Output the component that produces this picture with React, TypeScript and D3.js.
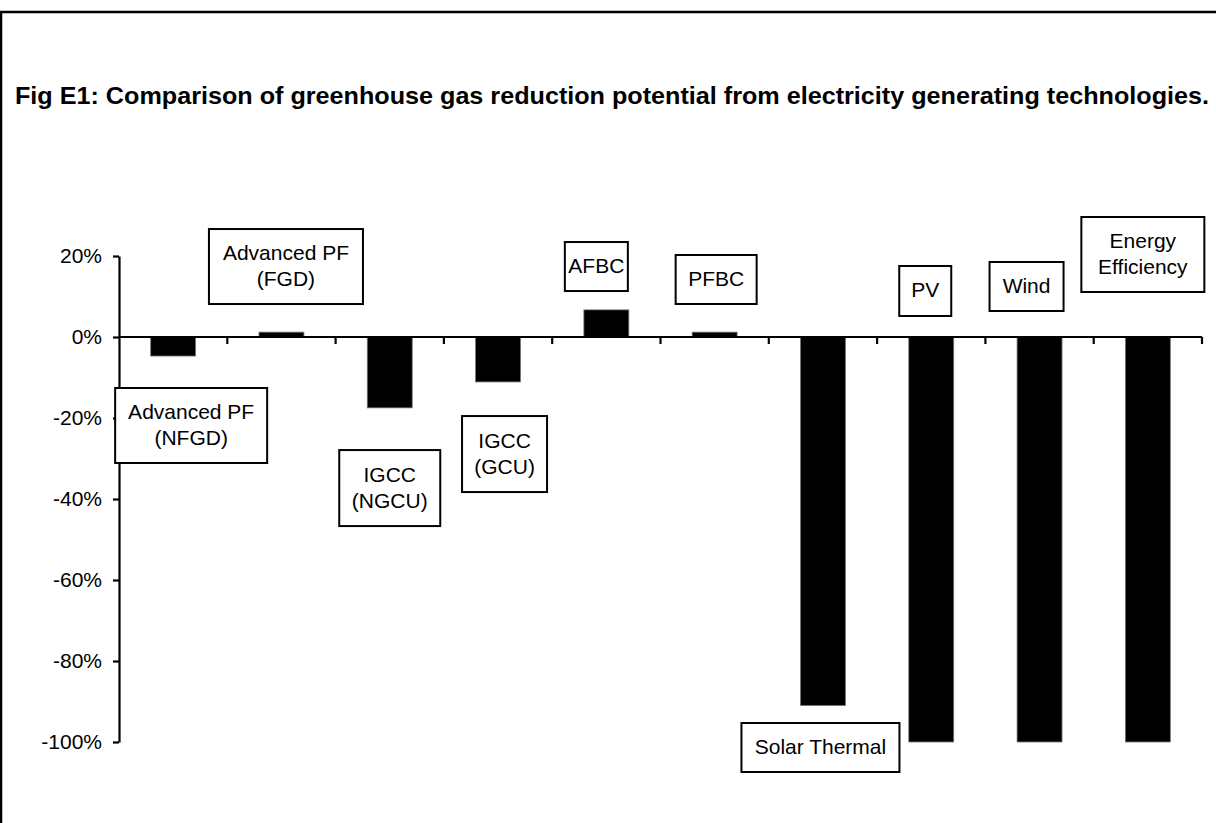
import React, { useEffect, useRef } from "react";
import * as d3 from "d3";

const categories = [
  "Advanced PF (NFGD)",
  "Advanced PF (FGD)",
  "IGCC (NGCU)",
  "IGCC (GCU)",
  "AFBC",
  "PFBC",
  "Solar Thermal",
  "PV",
  "Wind",
  "Energy Efficiency",
];
const reduction = [-0.047, 0.012, -0.175, -0.111, 0.067, 0.012, -0.91, -1.0, -1.0, -1.0];
const yTicks = [0.2, 0, -0.2, -0.4, -0.6, -0.8, -1.0];

// text box per category: lines, offset from band centre (px), centre in value units, size
const labelLines = [
  ["Advanced PF", "(NFGD)"],
  ["Advanced PF", "(FGD)"],
  ["IGCC", "(NGCU)"],
  ["IGCC", "(GCU)"],
  ["AFBC"],
  ["PFBC"],
  ["Solar Thermal"],
  ["PV"],
  ["Wind"],
  ["Energy", "Efficiency"],
];
const labelBoxes = [
  { dx: 18, v: -0.2185, w: 152, h: 75 },
  { dx: 4.5, v: 0.174, w: 154, h: 75 },
  { dx: 0, v: -0.373, w: 101, h: 76 },
  { dx: 6.5, v: -0.289, w: 85, h: 76 },
  { dx: -10, v: 0.174, w: 63, h: 49 },
  { dx: 1.5, v: 0.142, w: 81, h: 49 },
  { dx: -2.5, v: -1.0136, w: 158, h: 49 },
  { dx: -6, v: 0.1136, w: 52, h: 50 },
  { dx: -13, v: 0.1247, w: 74, h: 49 },
  { dx: -5, v: 0.2037, w: 123, h: 75 },
];

const title =
  "Fig E1: Comparison of greenhouse gas reduction potential from electricity generating technologies.";

export default function App() {
  const ref = useRef<SVGSVGElement>(null);

  useEffect(() => {
    const width = 1216;
    const height = 823;
    const font = "'Liberation Sans', Arial, sans-serif";
    const svg = d3.select(ref.current).attr("width", width).attr("height", height);
    svg.selectAll("*").remove();

    const x = d3.scaleBand()
      .domain(categories)
      .range([119, 1202])
      .paddingInner(0.585)
      .paddingOuter(0.2925);

    const y = d3.scaleLinear().domain([-1, 0.2]).range([742, 256]);

    // frame
    svg.append("path")
      .attr("d", `M1,${height} L1,12 L${width},12`)
      .attr("fill", "none")
      .attr("stroke", "#000")
      .attr("stroke-width", 2.5);

    // title
    svg.append("text")
      .attr("x", 15)
      .attr("y", 104)
      .attr("font-family", font)
      .attr("font-weight", "bold")
      .attr("font-size", 24)
      .attr("textLength", 1194)
      .attr("lengthAdjust", "spacingAndGlyphs")
      .attr("fill", "#000")
      .text(title);

    // bars
    svg.selectAll(".bar")
      .data(reduction)
      .enter()
      .append("rect")
      .attr("x", (d, i) => x(categories[i]) as number)
      .attr("y", d => y(Math.max(0, d)))
      .attr("width", x.bandwidth())
      .attr("height", d => Math.abs(y(d) - y(0)))
      .attr("fill", "#000")
      .attr("stroke", "#777")
      .attr("stroke-width", 0.8);

    // Y axis
    const pct = (d: d3.NumberValue) => `${Math.round(+d * 100)}%`;
    const yAxis = svg.append("g")
      .attr("transform", "translate(119,0)")
      .call(d3.axisLeft(y).tickValues(yTicks).tickSize(6).tickSizeOuter(0).tickFormat(pct));
    yAxis.select(".domain").attr("stroke-width", 2.2);
    yAxis.selectAll(".tick line").attr("stroke-width", 2.2);
    yAxis.selectAll("text")
      .attr("font-family", font)
      .attr("font-size", 21)
      .attr("fill", "#000")
      .attr("x", -17);

    // X axis at zero, ticks at category boundaries
    const edges = categories.map((c, i) => 119 + x.step() * i).concat([119 + x.step() * categories.length]);
    const xAxis = svg.append("g");
    xAxis.append("line")
      .attr("x1", 119)
      .attr("x2", edges[edges.length - 1])
      .attr("y1", y(0))
      .attr("y2", y(0))
      .attr("stroke", "#000")
      .attr("stroke-width", 2.2);
    xAxis.selectAll(".xt")
      .data(edges.slice(1))
      .enter()
      .append("line")
      .attr("x1", d => d)
      .attr("x2", d => d)
      .attr("y1", y(0))
      .attr("y2", y(0) + 7)
      .attr("stroke", "#000")
      .attr("stroke-width", 2.2);

    // category text boxes
    const boxes = svg.selectAll(".lbl")
      .data(categories)
      .enter()
      .append("g")
      .attr("transform", (c, i) => {
        const b = labelBoxes[i];
        const cx = (x(c) as number) + x.bandwidth() / 2 + b.dx;
        return `translate(${cx},${y(b.v)})`;
      });

    boxes.append("rect")
      .attr("x", (c, i) => -labelBoxes[i].w / 2)
      .attr("y", (c, i) => -labelBoxes[i].h / 2)
      .attr("width", (c, i) => labelBoxes[i].w)
      .attr("height", (c, i) => labelBoxes[i].h)
      .attr("fill", "#fff")
      .attr("stroke", "#000")
      .attr("stroke-width", 2);

    boxes.each(function (c, i) {
      const lines = labelLines[i];
      const lh = 26;
      const t = d3.select(this).append("text")
        .attr("text-anchor", "middle")
        .attr("font-family", font)
        .attr("font-size", 21)
        .attr("fill", "#000");
      lines.forEach((ln, k) => {
        t.append("tspan")
          .attr("x", 0)
          .attr("y", (k - (lines.length - 1) / 2) * lh + 6.5)
          .text(ln);
      });
    });
  }, []);

  return (
    <svg ref={ref} style={{ position: "absolute", left: 0, top: 0, background: "#fff" }}></svg>
  );
}
